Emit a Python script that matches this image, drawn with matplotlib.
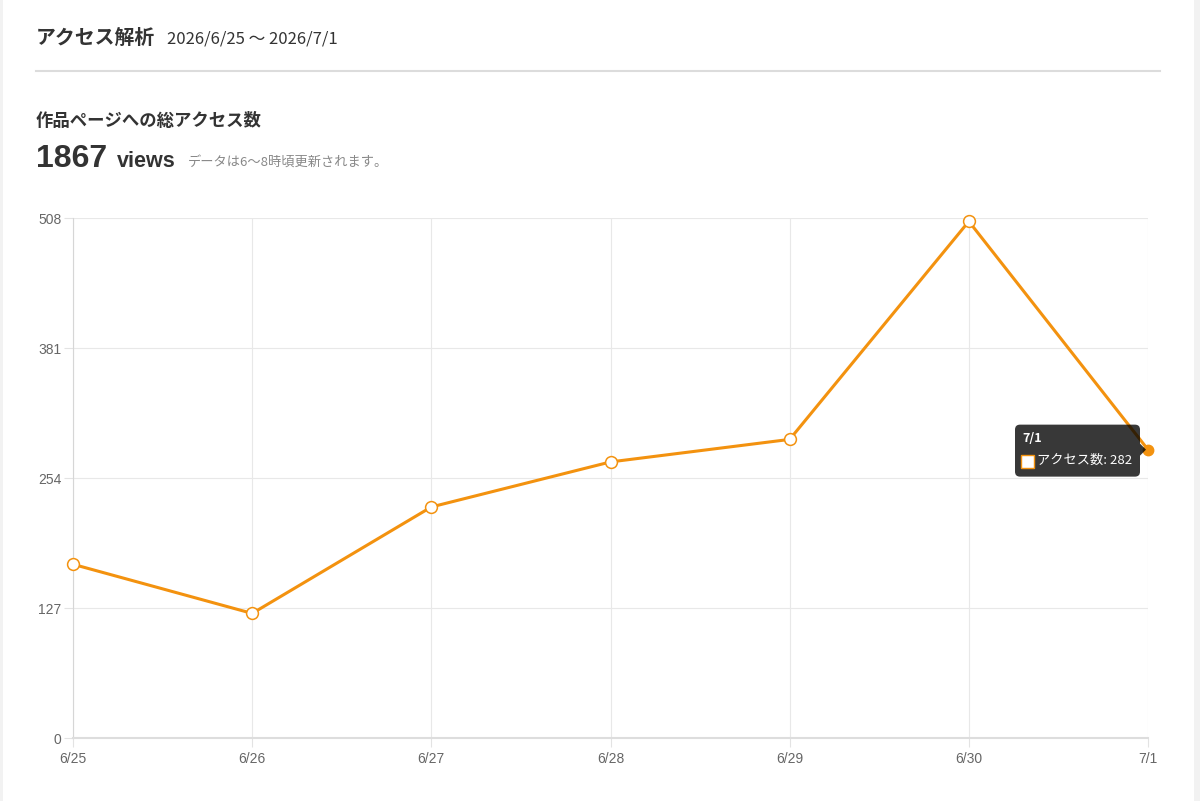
import numpy as np
import matplotlib.pyplot as plt
from matplotlib.patches import FancyBboxPatch, Rectangle, Polygon
from matplotlib.lines import Line2D
from matplotlib.transforms import IdentityTransform

plt.rcParams['font.family'] = ['Noto Sans CJK JP', 'DejaVu Sans']

# data
dates = ['6/25', '6/26', '6/27', '6/28', '6/29', '6/30', '7/1']
views = [170, 122, 226, 270, 292, 505, 282]
y_ticks = [0, 127, 254, 381, 508]
period = '2026/6/25 〜 2026/7/1'
note = 'データは6〜8時頃更新されます。'

orange = '#f3920f'
W, H = 1200, 801

fig = plt.figure(figsize=(W / 100, H / 100), dpi=100)
fig.patch.set_facecolor('white')


def fx(x):
    return x / W


def fy(y):
    return 1 - y / H


# page background strips at the edges
fig.add_artist(Rectangle((0, 0), fx(3), 1, color='#f2f2f2', lw=0))
fig.add_artist(Rectangle((fx(1194), 0), fx(6), 1, color='#f2f2f2', lw=0))

# header
fig.text(fx(36), fy(44), 'アクセス解析', fontsize=14.3, weight='bold', color='#333333', va='baseline')
fig.text(fx(167), fy(44), period, fontsize=12, color='#333333', va='baseline')
fig.add_artist(Line2D([fx(36), fx(1160)], [fy(71), fy(71)], color='#dcdcdc', lw=1.5))

fig.text(fx(36), fy(126), '作品ページへの総アクセス数', fontsize=12.5, weight='bold', color='#333333', va='baseline')
fig.text(fx(36), fy(167), str(sum(views)), fontsize=23, weight='bold', color='#333333',
         va='baseline', family='Liberation Sans')
fig.text(fx(117), fy(167), 'views', fontsize=15.5, weight='bold', color='#333333',
         va='baseline', family='Liberation Sans')
fig.text(fx(188), fy(166), note, fontsize=9.5, color='#888888', va='baseline')

# chart
ax = fig.add_axes([fx(73), fy(738.3), (1148 - 73) / W, (738.3 - 218.3) / H])
x = np.arange(len(dates))
ax.plot(x, views, color=orange, lw=2.2, zorder=3, clip_on=False)
ax.plot(x[:-1], views[:-1], 'o', ms=8.5, mfc='white', mec=orange, mew=1.1, zorder=4, clip_on=False)
ax.plot(x[-1:], views[-1:], 'o', ms=7.5, mfc=orange, mec=orange, zorder=4, clip_on=False)

ax.set_xlim(0, len(dates) - 1)
ax.set_ylim(0, y_ticks[-1])
ax.set_xticks(x, dates)
ax.set_yticks(y_ticks)
ax.tick_params(axis='both', length=6.5, width=0.8, color='#e3e3e3', labelcolor='#666666', labelsize=10)
ax.tick_params(axis='x', pad=3.5)
ax.tick_params(axis='y', pad=2)
for lbl in ax.get_xticklabels() + ax.get_yticklabels():
    lbl.set_family('Liberation Sans')

ax.grid(color='#e8e8e8', lw=0.8)
ax.set_axisbelow(True)
for s in ['top', 'right']:
    ax.spines[s].set_visible(False)
ax.spines['left'].set_color('#d6d6d6')
ax.spines['left'].set_linewidth(0.8)
ax.spines['bottom'].set_color('#dddddd')
ax.spines['bottom'].set_linewidth(1.5)

# tooltip on the last point
px, py = ax.transData.transform((x[-1], views[-1]))
idt = IdentityTransform()
fig.add_artist(FancyBboxPatch((px - 133, py - 27), 125, 52,
                              boxstyle='round,pad=0,rounding_size=5',
                              fc=(0, 0, 0, 0.78), ec='none', transform=idt, zorder=10))
fig.add_artist(Polygon([[px - 8, py + 6], [px - 2, py], [px - 8, py - 6]],
                       closed=True, fc=(0, 0, 0, 0.78), ec='none', transform=idt, zorder=10))
fig.text(px - 126, py + 11, dates[-1], transform=idt, color='white', fontsize=9,
         weight='bold', va='center', zorder=11)
fig.add_artist(Rectangle((px - 127, py - 18), 13, 13, fc='white', ec=orange, lw=1,
                         transform=idt, zorder=11))
fig.text(px - 111, py - 11, f'アクセス数: {views[-1]}', transform=idt, color='white',
         fontsize=9.5, va='center', zorder=11)

fig.savefig('out.png', dpi=100)
